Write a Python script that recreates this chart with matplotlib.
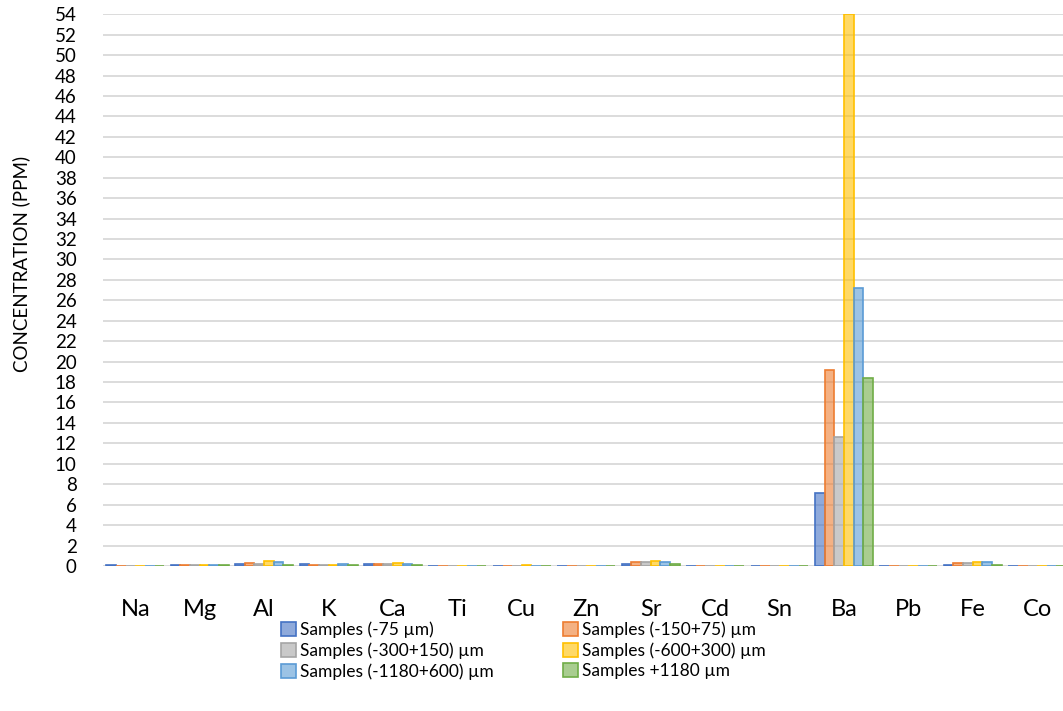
import matplotlib
matplotlib.use("Agg")
import matplotlib.pyplot as plt
import numpy as np

elements = ["Na", "Mg", "Al", "K", "Ca", "Ti", "Cu", "Zn", "Sr", "Cd", "Sn", "Ba", "Pb", "Fe", "Co"]
series_names = ["Samples (-75 µm)", "Samples (-150+75) µm", "Samples (-300+150) µm",
                "Samples (-600+300) µm", "Samples (-1180+600) µm", "Samples +1180 µm"]
s_75 =       [0.05, 0.05, 0.20, 0.15, 0.15, 0.00, 0.00, 0.00, 0.15, 0.0, 0.0, 7.1,  0.0, 0.10, 0.0]
s_150_75 =   [0.00, 0.10, 0.25, 0.10, 0.20, 0.00, 0.00, 0.00, 0.35, 0.0, 0.0, 19.2, 0.0, 0.30, 0.0]
s_300_150 =  [0.00, 0.05, 0.20, 0.10, 0.15, 0.00, 0.00, 0.00, 0.35, 0.0, 0.0, 12.6, 0.0, 0.30, 0.0]
s_600_300 =  [0.02, 0.10, 0.45, 0.10, 0.25, 0.01, 0.05, 0.02, 0.50, 0.0, 0.0, 54.0, 0.0, 0.35, 0.0]
s_1180_600 = [0.03, 0.05, 0.35, 0.15, 0.20, 0.00, 0.00, 0.00, 0.40, 0.0, 0.0, 27.2, 0.0, 0.35, 0.0]
s_1180 =     [0.00, 0.05, 0.10, 0.05, 0.10, 0.00, 0.00, 0.00, 0.20, 0.0, 0.0, 18.4, 0.0, 0.10, 0.0]
series = [s_75, s_150_75, s_300_150, s_600_300, s_1180_600, s_1180]
colors = ["#4472C4", "#ED7D31", "#A5A5A5", "#FFC000", "#5B9BD5", "#70AD47"]

plt.rcParams['font.family'] = ['Lato', 'DejaVu Sans']

fig = plt.figure(figsize=(10.63, 7.11), dpi=100)
ax = fig.add_axes([0.097, 0.204, 0.909, 0.776])

x = np.arange(len(elements))
n = len(series)
width = 0.9 / n
handles = []
for i, (vals, c) in enumerate(zip(series, colors)):
    fc = matplotlib.colors.to_rgba(c, 0.6)
    b = ax.bar(x + (i - (n - 1) / 2) * width, vals, width, facecolor=fc,
               edgecolor=c, linewidth=1.2, label=series_names[i], zorder=3)
    handles.append(b)

ax.set_xlim(-0.5, len(elements) - 0.5)
ax.set_ylim(0, 54)
ax.set_yticks(np.arange(0, 55, 2))
ax.set_xticks(x)
ax.set_xticklabels(elements, fontsize=17)
ax.tick_params(axis='x', length=0, pad=24)
ax.tick_params(axis='y', length=0, labelsize=13.5, pad=19)
ax.grid(axis='y', color='#D9D9D9', linewidth=1.3, zorder=0)
for s in ax.spines.values():
    s.set_visible(False)
ax.set_ylabel("CONCENTRATION (PPM)", fontsize=13.5)
ax.yaxis.set_label_coords(-0.076, 0.547)

order = [0, 2, 4, 1, 3, 5]
fig.legend([handles[k] for k in order], [series_names[k] for k in order],
           ncol=2, loc='upper left', bbox_to_anchor=(0.256, 0.138),
           frameon=False, fontsize=12.5, handlelength=0.85, handleheight=0.85,
           handletextpad=0.25, labelspacing=0.25, columnspacing=4.0, borderpad=0)

fig.savefig("out.png", dpi=100)
